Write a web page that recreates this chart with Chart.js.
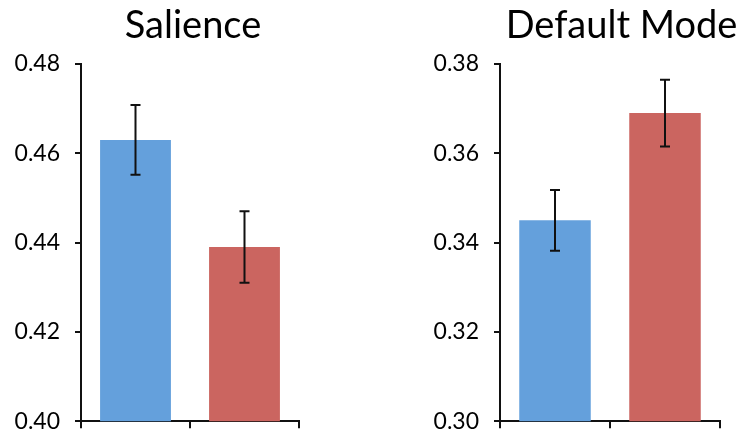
<!DOCTYPE html>
<html>
<head>
<meta charset="utf-8">
<script src="https://cdn.jsdelivr.net/npm/chart.js@4"></script>
<style>
  html, body { margin: 0; padding: 0; background: #fff; }
  body { width: 747px; height: 436px; position: relative; overflow: hidden; }
  .panel { position: absolute; top: 0; height: 450px; }
</style>
</head>
<body>
<div class="panel" style="left:0;width:320px"><canvas id="salience" width="320" height="450"></canvas></div>
<div class="panel" style="left:400px;width:347px"><canvas id="defaultMode" width="347" height="450"></canvas></div>
<script>
// two conditions per network, no labels under the bars
const conditions = ['', ''];
const barColors = ['#64a0dc', '#cb6560'];

const salienceValues = [0.463, 0.439];
const salienceErrors = [0.0078, 0.008];
const salienceRange = [0.40, 0.48];

const defaultModeValues = [0.345, 0.369];
const defaultModeErrors = [0.0068, 0.0075];
const defaultModeRange = [0.30, 0.38];

const tickStep = 0.02;

Chart.defaults.font.family = 'Lato, "Open Sans", sans-serif';
Chart.defaults.color = '#000';

const errorBars = {
  id: 'errorBars',
  afterDatasetsDraw(chart) {
    const ctx = chart.ctx;
    const y = chart.scales.y;
    chart.data.datasets.forEach((ds, i) => {
      const meta = chart.getDatasetMeta(i);
      meta.data.forEach((bar, j) => {
        const top = y.getPixelForValue(ds.data[j] + ds.errors[j]);
        const bottom = y.getPixelForValue(ds.data[j] - ds.errors[j]);
        ctx.save();
        ctx.strokeStyle = '#111';
        ctx.lineWidth = 2;
        ctx.beginPath();
        ctx.moveTo(bar.x, top);
        ctx.lineTo(bar.x, bottom);
        ctx.moveTo(bar.x - 5, top);
        ctx.lineTo(bar.x + 5, top);
        ctx.moveTo(bar.x - 5, bottom);
        ctx.lineTo(bar.x + 5, bottom);
        ctx.stroke();
        ctx.restore();
      });
    });
  }
};

const panelTitle = {
  id: 'panelTitle',
  afterDraw(chart, args, opts) {
    const ctx = chart.ctx;
    const area = chart.chartArea;
    ctx.save();
    ctx.font = '38px ' + Chart.defaults.font.family;
    ctx.fillStyle = '#000';
    ctx.textAlign = 'center';
    ctx.textBaseline = 'alphabetic';
    ctx.fillText(opts.text, (area.left + area.right) / 2 + opts.shift, 38);
    ctx.restore();
  }
};

function buildChart(id, title, values, errors, range, axisWidth, padRight, titleShift) {
  return new Chart(document.getElementById(id), {
    type: 'bar',
    data: {
      labels: conditions,
      datasets: [{
        data: values,
        errors: errors,
        backgroundColor: barColors,
        barPercentage: 0.65,
        categoryPercentage: 1
      }]
    },
    options: {
      responsive: false,
      animation: false,
      devicePixelRatio: 1,
      layout: { padding: { top: 64, right: padRight, bottom: 0, left: 0 } },
      plugins: {
        legend: { display: false },
        tooltip: { enabled: false },
        panelTitle: { text: title, shift: titleShift }
      },
      scales: {
        x: {
          grid: { offset: true, drawOnChartArea: false, drawTicks: true, tickLength: 7, color: '#111', lineWidth: 2 },
          border: { display: true, color: '#111', width: 2 },
          ticks: { display: false },
          afterFit: (scale) => { scale.height = 15; }
        },
        y: {
          min: range[0],
          max: range[1],
          grid: { drawOnChartArea: false, drawTicks: true, tickLength: 6, color: '#111', lineWidth: 2 },
          border: { display: true, color: '#111', width: 2 },
          ticks: {
            stepSize: tickStep,
            padding: 15,
            font: { size: 23 },
            color: '#000',
            callback: (v) => v.toFixed(2)
          },
          afterFit: (scale) => { scale.width = axisWidth; }
        }
      }
    },
    plugins: [errorBars, panelTitle]
  });
}

buildChart('salience', 'Salience', salienceValues, salienceErrors, salienceRange, 81, 21, 3);
buildChart('defaultMode', 'Default Mode', defaultModeValues, defaultModeErrors, defaultModeRange, 100, 27, 11.5);
</script>
</body>
</html>
